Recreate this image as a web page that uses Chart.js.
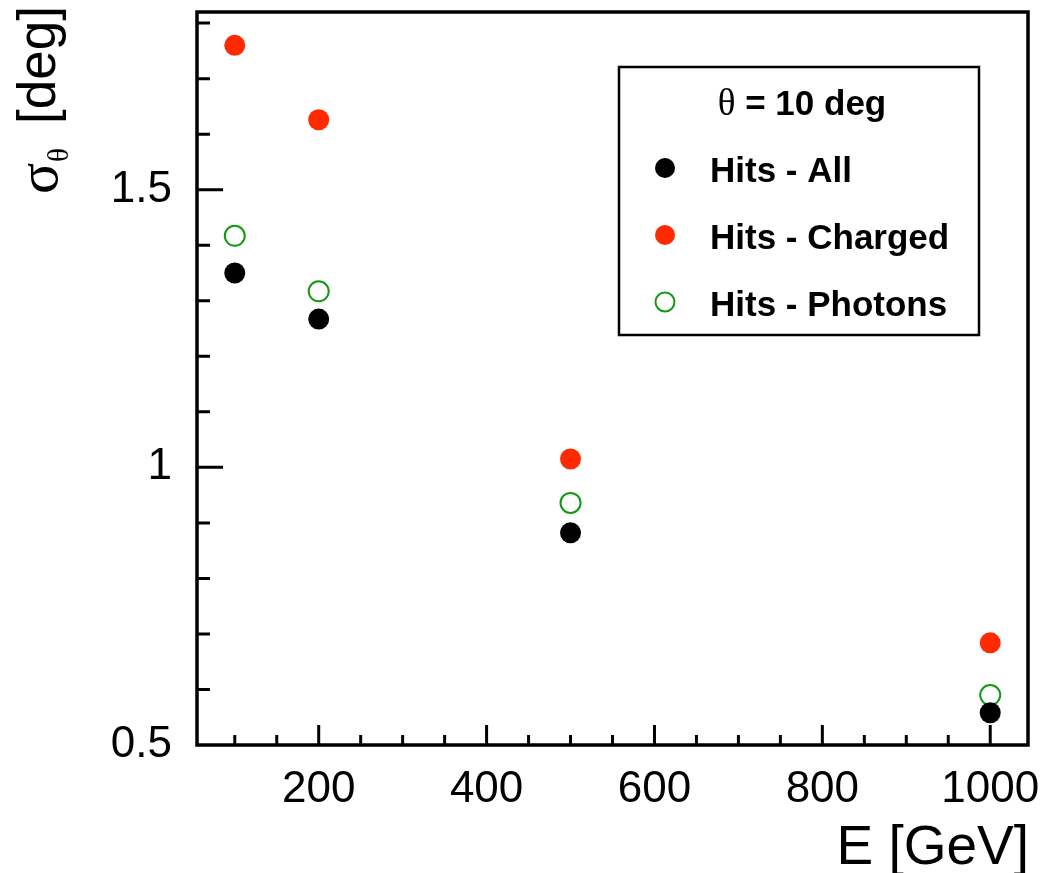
<!DOCTYPE html>
<html>
<head>
<meta charset="utf-8">
<script src="https://cdn.jsdelivr.net/npm/chart.js@4.4.0/dist/chart.umd.min.js"></script>
<style>
  html, body { margin: 0; padding: 0; background: #fff; }
</style>
</head>
<body>
<canvas id="chart" width="1045" height="873"></canvas>
<script>
// data
const energies = [100, 200, 500, 1000];
const sigmaAll = [1.350, 1.267, 0.882, 0.558];
const sigmaCharged = [1.760, 1.626, 1.015, 0.684];
const sigmaPhotons = [1.417, 1.317, 0.936, 0.590];

const xTickValues = [200, 400, 600, 800, 1000];
const yTickValues = [0.5, 1, 1.5];
const seriesLabels = ['Hits - All', 'Hits - Charged', 'Hits - Photons'];
const legendHeaderSymbol = 'θ';
const legendHeaderText = ' = 10 deg';
const xTitle = 'E [GeV]';

const SANS = '"Liberation Sans", Arial, Helvetica, sans-serif';
const SERIF = '"Liberation Serif", "Times New Roman", serif';

const toPoints = (ys) => energies.map((x, i) => ({ x: x, y: ys[i] }));

// no extra room for half labels at the axis ends
const noScalePadding = (s) => {
    s.paddingTop = 0;
    s.paddingBottom = 0;
    s.paddingLeft = 0;
    s.paddingRight = 0;
};

// ROOT-like frame, inward ticks, titles and boxed legend
const rootStyle = {
    id: 'rootStyle',
    afterDraw(chart) {
        const ctx = chart.ctx;
        const area = chart.chartArea;
        const xs = chart.scales.x;
        const ys = chart.scales.y;
        ctx.save();

        // ticks
        ctx.strokeStyle = '#000';
        ctx.lineWidth = 3;
        ctx.beginPath();
        for (let v = 100; v <= xs.max; v += 50) {
            const px = xs.getPixelForValue(v);
            const len = (v % 200 === 0) ? 20 : 10;
            ctx.moveTo(px, area.bottom);
            ctx.lineTo(px, area.bottom - len);
        }
        for (let k = 6; k <= 18; k++) {
            const v = k / 10;
            const py = ys.getPixelForValue(v);
            const len = (k % 5 === 0) ? 26 : 13;
            ctx.moveTo(area.left, py);
            ctx.lineTo(area.left + len, py);
        }
        ctx.stroke();

        // frame
        ctx.lineWidth = 3.5;
        ctx.strokeRect(area.left, area.top, area.right - area.left, area.bottom - area.top);

        // x title
        ctx.fillStyle = '#000';
        ctx.font = '55px ' + SANS;
        ctx.textAlign = 'right';
        ctx.textBaseline = 'alphabetic';
        ctx.fillText(xTitle, area.right + 1, 864);

        // y title: sigma with theta subscript, rotated
        ctx.textAlign = 'left';
        const drawRot = (text, font, x, y) => {
            ctx.save();
            ctx.translate(x, y);
            ctx.rotate(-Math.PI / 2);
            ctx.font = font;
            ctx.fillText(text, 0, 0);
            ctx.restore();
        };
        drawRot('σ', '58px ' + SERIF, 57, 194);
        drawRot('θ', '29px ' + SERIF, 68, 162);
        drawRot('[deg]', '53px ' + SANS, 55, 124);

        // legend box
        const box = { left: 619, top: 67, right: 979, bottom: 335 };
        ctx.fillStyle = '#fff';
        ctx.fillRect(box.left, box.top, box.right - box.left, box.bottom - box.top);
        ctx.lineWidth = 2.5;
        ctx.strokeStyle = '#000';
        ctx.strokeRect(box.left, box.top, box.right - box.left, box.bottom - box.top);

        // legend header
        ctx.fillStyle = '#000';
        ctx.font = '37px ' + SERIF;
        const w1 = ctx.measureText(legendHeaderSymbol).width;
        ctx.font = 'bold 35px ' + SANS;
        const w2 = ctx.measureText(legendHeaderText).width;
        const hx = (box.left + box.right) / 2 + 3 - (w1 + w2) / 2;
        ctx.font = '37px ' + SERIF;
        ctx.fillText(legendHeaderSymbol, hx, 115);
        ctx.font = 'bold 35px ' + SANS;
        ctx.fillText(legendHeaderText, hx + w1, 115);

        // legend entries
        const rowY = [168, 235, 302];
        chart.data.datasets.forEach((ds, i) => {
            const cy = rowY[i];
            ctx.beginPath();
            ctx.arc(665, cy, ds.pointRadius - 0.5, 0, Math.PI * 2);
            if (ds.pointBorderWidth > 0) {
                ctx.lineWidth = ds.pointBorderWidth;
                ctx.strokeStyle = ds.pointBorderColor;
                ctx.stroke();
            } else {
                ctx.fillStyle = ds.pointBackgroundColor;
                ctx.fill();
            }
            ctx.fillStyle = '#000';
            ctx.font = 'bold 35px ' + SANS;
            ctx.fillText(ds.label, 710, cy + 14);
        });

        ctx.restore();
    }
};

const ctx = document.getElementById('chart').getContext('2d');
new Chart(ctx, {
    type: 'scatter',
    data: {
        datasets: [
            {
                label: seriesLabels[0],
                data: toPoints(sigmaAll),
                pointRadius: 10.5,
                pointBackgroundColor: '#000000',
                pointBorderColor: '#000000',
                pointBorderWidth: 0
            },
            {
                label: seriesLabels[1],
                data: toPoints(sigmaCharged),
                pointRadius: 10.5,
                pointBackgroundColor: '#ff2a00',
                pointBorderColor: '#ff2a00',
                pointBorderWidth: 0
            },
            {
                label: seriesLabels[2],
                data: toPoints(sigmaPhotons),
                pointRadius: 10,
                pointBackgroundColor: 'rgba(0,0,0,0)',
                pointBorderColor: '#129a12',
                pointBorderWidth: 2
            }
        ]
    },
    options: {
        responsive: false,
        animation: false,
        events: [],
        layout: { padding: { left: 0, top: 11, right: 17, bottom: 0 } },
        plugins: {
            legend: { display: false },
            tooltip: { enabled: false }
        },
        scales: {
            x: {
                type: 'linear',
                min: 55,
                max: 1045,
                afterBuildTicks: (s) => { s.ticks = xTickValues.map(v => ({ value: v })); },
                afterFit: (s) => { s.height = 128; noScalePadding(s); },
                grid: { display: false },
                border: { display: false },
                ticks: {
                    autoSkip: false,
                    maxRotation: 0,
                    padding: 10,
                    color: '#000',
                    font: { family: SANS, size: 44 },
                    callback: (v) => String(v)
                }
            },
            y: {
                type: 'linear',
                min: 0.5,
                max: 1.82,
                afterBuildTicks: (s) => { s.ticks = yTickValues.map(v => ({ value: v })); },
                afterFit: (s) => { s.width = 197; noScalePadding(s); },
                grid: { display: false },
                border: { display: false },
                ticks: {
                    autoSkip: false,
                    padding: 17,
                    color: '#000',
                    font: { family: SANS, size: 44 },
                    callback: (v) => String(v)
                }
            }
        }
    },
    plugins: [rootStyle]
});
</script>
</body>
</html>
